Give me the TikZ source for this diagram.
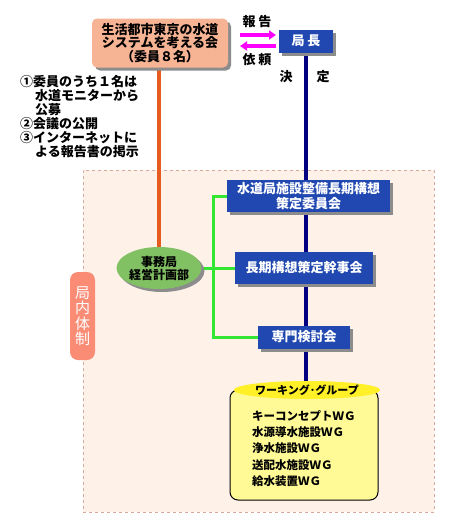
\documentclass[tikz,border=0pt]{standalone}
\usepackage{fontspec}
\setmainfont{Noto Sans CJK JP}
\usetikzlibrary{shapes.geometric,shadows,arrows.meta,backgrounds}
\pgfdeclarelayer{back}
\pgfsetlayers{back,background,main}
\definecolor{peach}{RGB}{246,180,148}
\definecolor{boxblue}{RGB}{32,72,176}
\definecolor{navy}{RGB}{0,0,128}
\definecolor{orangeline}{RGB}{230,92,30}
\definecolor{mag}{RGB}{255,0,255}
\definecolor{ellgreen}{RGB}{130,192,100}
\definecolor{lgreen}{RGB}{50,230,50}
\definecolor{bgpeach}{RGB}{253,241,232}
\definecolor{bgborder}{RGB}{215,170,160}
\definecolor{salmon}{RGB}{250,140,118}
\definecolor{wgyellow}{RGB}{255,250,150}
\definecolor{wgtitle}{RGB}{255,240,40}
\tikzset{
  shad/.style={drop shadow={shadow xshift=3pt,shadow yshift=-3pt,fill=black!45,opacity=1}},
  bluebox/.style={rectangle,fill=boxblue,text=white,inner sep=0pt,align=center,shad,
     font=\fontsize{13}{14.5}\selectfont\bfseries},
  txt/.style={inner sep=0pt,font=\fontsize{13}{14}\selectfont\bfseries},
}
\begin{document}
\begin{tikzpicture}[x=1pt,y=-1pt]
\useasboundingbox (0,0) rectangle (449,528);
\begin{pgfonlayer}{back}
\fill[white] (0,0) rectangle (449,528);
% background frame
\node[rectangle,draw=bgborder,fill=bgpeach,dashed,line width=0.8pt,
      minimum width=351pt,minimum height=342pt,inner sep=0pt] (frame) at (258.5,341) {};
\end{pgfonlayer}
% top council box
\node[rectangle,rounded corners=5pt,fill=peach,shad,minimum width=136pt,minimum height=49pt,
      inner sep=0pt,align=center,font=\fontsize{13}{13.8}\selectfont\bfseries]
      (council) at (160,43) {生活都市東京の水道\\システムを考える会\\（委員８名）};
% chief box
\node[bluebox,minimum width=54pt,minimum height=23pt] (chief) at (306,41) {局 長};
% report / request arrows
\node[txt] (rep) at (257,22) {報 告};
\node[txt] (req) at (257,60) {依 頼};
\coordinate (ra1) at (240,35);
\coordinate (ra2) at (276,35);
\coordinate (la1) at (276,46);
\coordinate (la2) at (240,46);
\draw[mag,line width=3.5pt,-{Triangle[length=7pt,width=9pt]}] (ra1) -- (ra2);
\draw[mag,line width=3.5pt,-{Triangle[length=7pt,width=9pt]}] (la1) -- (la2);
\node[txt] (ketsu) at (286,77) {決};
\node[txt] (tei) at (323,77) {定};
% notes
\node[txt,anchor=north west,align=left,font=\fontsize{13}{14}\selectfont\bfseries] (notes) at (20,75)
  {①委員のうち１名は\\
   \hspace*{15pt}水道モニターから\\
   \hspace*{15pt}公募\\
   ②会議の公開\\
   ③インターネットに\\
   \hspace*{15pt}よる報告書の掲示};
% side label
\node[rectangle,rounded corners=8pt,fill=salmon,minimum width=25pt,minimum height=88pt,inner sep=0pt,
      text=white,align=center,font=\fontsize{15}{15.5}\selectfont] (naibu) at (82.5,316) {局\\内\\体\\制};
% secretariat ellipse
\node[ellipse,fill=ellgreen,shad,minimum width=73pt,minimum height=42pt,inner sep=0pt,align=center,
      font=\fontsize{12}{13}\selectfont\bfseries] (sec) at (159,268) {事務局\\経営計画部};
% blue boxes
\node[bluebox,minimum width=163pt,minimum height=32pt] (b1) at (308.5,196) {水道局施設整備長期構想\\策定委員会};
\node[bluebox,minimum width=138pt,minimum height=32pt] (b2) at (304,268) {長期構想策定幹事会};
\node[bluebox,minimum width=92pt,minimum height=23pt] (b3) at (304,337) {専門検討会};
% working group
\node[rectangle,rounded corners=8pt,draw=black,line width=1pt,fill=wgyellow,
      minimum width=148pt,minimum height=110pt,inner sep=0pt] (wg) at (304,445) {};
\node[ellipse,fill=wgtitle,minimum width=113pt,minimum height=18pt,inner sep=0pt,
      font=\fontsize{11}{12}\selectfont\bfseries] (wgt) at (307,390) {ワーキング･グループ};
\node[anchor=north west,inner sep=0pt,align=left,font=\fontsize{11.5}{16.3}\selectfont\bfseries] (wglist) at (252,410)
  {キーコンセプトＷＧ\\水源導水施設ＷＧ\\浄水施設ＷＧ\\送配水施設ＷＧ\\給水装置ＷＧ};
% connectors
\coordinate (trunk) at (213,268);
\begin{scope}[on background layer]
  \draw[navy,line width=4pt] (chief.south) -- (chief.south |- wgt.north);
  \draw[orangeline,line width=4pt] (council.south -| sec.north) -- (sec.north);
  \draw[lgreen,line width=3pt] (b1.west) -- (b1.west -| trunk) -- (b3.west -| trunk) -- (b3.west);
  \draw[lgreen,line width=3pt] (sec.east) -- (b2.west);
\end{scope}
\end{tikzpicture}
\end{document}
